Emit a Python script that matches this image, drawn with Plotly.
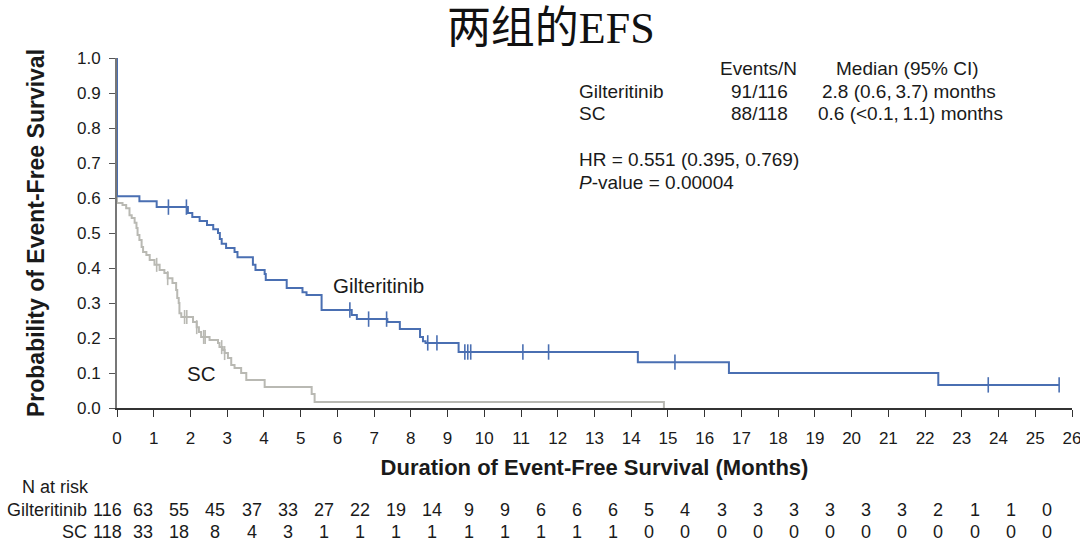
import numpy as np
import plotly.graph_objects as go

# ---------------- data ----------------
months = list(range(0, 27))

gil_time = [0, 0, 0.61, 1.08, 1.93, 2.05, 2.25, 2.45, 2.62, 2.75, 2.80, 2.85, 2.97, 3.20, 3.28,
            3.70, 3.77, 4.02, 4.05, 4.62, 5.05, 5.16, 5.57, 6.39, 6.53, 7.36, 7.70, 8.25, 8.33,
            8.40, 9.30, 14.18, 16.66, 22.36, 25.65]
gil_surv = [1.0, 0.605, 0.591, 0.574, 0.557, 0.546, 0.534, 0.523, 0.511, 0.500, 0.483, 0.469, 0.457,
            0.446, 0.431, 0.409, 0.394, 0.383, 0.366, 0.343, 0.331, 0.323, 0.280, 0.266, 0.254,
            0.246, 0.226, 0.203, 0.191, 0.186, 0.160, 0.131, 0.100, 0.066, 0.066]
gil_censor = [1.40, 1.89, 6.34, 6.85, 7.34, 8.46, 8.71, 9.47, 9.55, 9.63, 11.05, 11.75, 15.19,
              23.72, 25.65]

sc_time = [0, 0, 0.15, 0.25, 0.34, 0.40, 0.48, 0.53, 0.56, 0.61, 0.67, 0.71, 0.80, 0.89, 1.02,
           1.16, 1.29, 1.38, 1.51, 1.61, 1.64, 1.68, 1.70, 1.75, 2.07, 2.17, 2.23, 2.29, 2.52,
           2.75, 2.79, 2.88, 2.93, 3.02, 3.11, 3.20, 3.38, 3.52, 4.02, 5.30, 5.38, 14.89, 14.89]
sc_surv = [1.0, 0.586, 0.580, 0.571, 0.551, 0.543, 0.529, 0.514, 0.494, 0.480, 0.460, 0.446, 0.437,
           0.423, 0.409, 0.394, 0.386, 0.371, 0.357, 0.337, 0.314, 0.300, 0.271, 0.260, 0.246,
           0.231, 0.217, 0.203, 0.194, 0.186, 0.174, 0.166, 0.157, 0.143, 0.123, 0.114, 0.100,
           0.080, 0.060, 0.040, 0.017, 0.017, 0.0]
sc_censor = [1.08, 1.38, 1.84, 1.90, 2.17, 2.36, 2.40, 2.85, 2.93]

risk_gil = [116, 63, 55, 45, 37, 33, 27, 22, 19, 14, 9, 9, 6, 6, 6, 5, 4, 3, 3, 3, 3, 3, 3, 2, 1, 1, 0]
risk_sc = [118, 33, 18, 8, 4, 3, 1, 1, 1, 1, 1, 1, 1, 1, 1, 0, 0, 0, 0, 0, 0, 0, 0, 0, 0, 0, 0]

BLUE = "#4a6fb2"
GRAY = "#b9b9b3"
FONT = "Liberation Sans, Arial, sans-serif"


def surv_at(times, survs, t):
    times = np.asarray(times)
    idx = np.searchsorted(times, t, side="right") - 1
    return float(np.asarray(survs)[idx])


# ---------------- layout geometry (pixels) ----------------
W, H = 1080, 551
ML, MR, MT, MB = 117, 8, 58, 143
PW = W - ML - MR
PH = H - MT - MB


def px(x):
    return (x - ML) / PW


def py(y):
    return (H - MB - y) / PH


fig = go.Figure()

fig.add_trace(go.Scatter(x=sc_time, y=sc_surv, mode="lines", line=dict(color=GRAY, width=2, shape="hv"),
                         showlegend=False, hoverinfo="skip"))
fig.add_trace(go.Scatter(x=sc_censor, y=[surv_at(sc_time, sc_surv, t) for t in sc_censor], mode="markers",
                         marker=dict(symbol="line-ns", size=10, line=dict(color=GRAY, width=1.6)),
                         showlegend=False, hoverinfo="skip", cliponaxis=False))
fig.add_trace(go.Scatter(x=gil_time, y=gil_surv, mode="lines", line=dict(color=BLUE, width=2, shape="hv"),
                         showlegend=False, hoverinfo="skip"))
fig.add_trace(go.Scatter(x=gil_censor, y=[surv_at(gil_time, gil_surv, t) for t in gil_censor], mode="markers",
                         marker=dict(symbol="line-ns", size=11, line=dict(color=BLUE, width=1.6)),
                         showlegend=False, hoverinfo="skip", cliponaxis=False))

annotations = []


def add_text(text, x, y, size=19, xanchor="center", xref="paper"):
    annotations.append(dict(text=text, x=x, y=y, xref=xref, yref="paper",
                            xanchor=xanchor, yanchor="middle", showarrow=False,
                            font=dict(family=FONT, size=size, color="#1a1a1a")))


# curve labels
add_text("Gilteritinib", px(378), py(285), size=20.5)
add_text("SC", px(201), py(373), size=20.5)

# stats block
add_text("Events/N", px(758), py(68))
add_text("Median (95% CI)", px(907), py(68))
add_text("Gilteritinib", px(577), py(91), xanchor="left")
add_text("91/116", px(759), py(91))
add_text("2.8 (0.6,\u20093.7) months", px(909), py(91))
add_text("SC", px(577), py(113), xanchor="left")
add_text("88/118", px(759), py(113))
add_text("0.6 (<0.1,\u20091.1) months", px(910), py(113))
add_text("HR = 0.551 (0.395, 0.769)", px(577), py(159), xanchor="left")
add_text("<i>P</i>-value = 0.00004", px(577), py(182), xanchor="left")

# risk table
add_text("N at risk", px(20), py(487), size=18, xanchor="left")
add_text("Gilteritinib", px(89), py(510), size=18, xanchor="right")
add_text("SC", px(89), py(532), size=18, xanchor="right")
for i, m in enumerate(months):
    xpos = px(107 + i * 36.15)
    add_text(str(risk_gil[i]), xpos, py(510), size=18)
    add_text(str(risk_sc[i]), xpos, py(532), size=18)

fig.update_layout(
    width=W, height=H,
    margin=dict(l=ML, r=MR, t=MT, b=MB, autoexpand=False),
    paper_bgcolor="white", plot_bgcolor="white",
    font=dict(family=FONT, size=17, color="#1a1a1a"),
    title=dict(text="两组的EFS", x=0.51, xanchor="center", y=1 - 28 / H, yanchor="middle",
               yref="container",
               font=dict(family="Liberation Serif, Noto Sans CJK SC, serif", size=44, color="#111")),
    annotations=annotations,
    xaxis=dict(range=[0, 26], tickmode="array", tickvals=months, ticktext=[str(m) for m in months],
               showline=True, linecolor="#333", linewidth=1.5, ticks="outside", ticklen=7,
               tickcolor="#333", tickwidth=1.3, showgrid=False, zeroline=False, automargin=False,
               tickfont=dict(size=17), ticklabelstandoff=7, ticklabeloverflow="allow",
               title=dict(text="<b>Duration of Event-Free Survival (Months)</b>", standoff=12,
                          font=dict(size=22))),
    yaxis=dict(range=[0, 1], tickmode="array", tickvals=[i / 10 for i in range(11)],
               ticktext=["%.1f" % (i / 10) for i in range(11)],
               showline=True, linecolor="#777", linewidth=2, ticks="outside", ticklen=6,
               tickcolor="#555", tickwidth=1.3, showgrid=False, zeroline=False, automargin=False,
               tickfont=dict(size=17), ticklabelstandoff=5,
               title=dict(text="<b>Probability of Event-Free Survival</b>", standoff=26,
                          font=dict(size=23))),
)

fig.write_html("out.html", config={"displayModeBar": False},
               post_script="document.body.style.margin='0px';")
